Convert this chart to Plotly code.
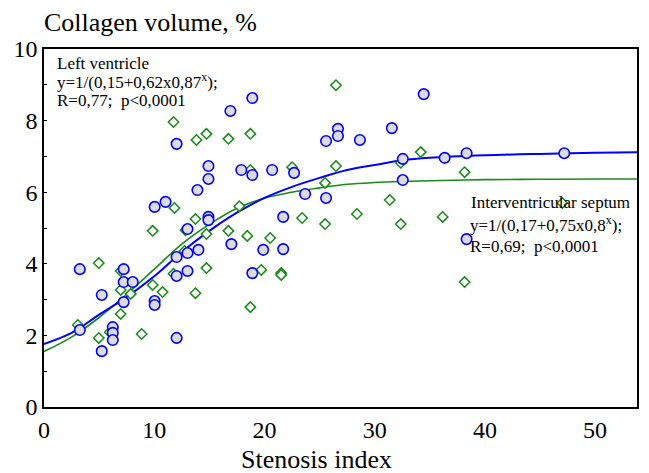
import plotly.graph_objects as go

# Left ventricle - blue circles
lv_x = [3.25, 3.25, 5.24, 5.24, 6.24, 6.24, 6.24, 7.23, 7.23, 8.05, 7.23, 10.04, 10.04, 12.03,
        10.04, 11.03, 12.03, 12.03, 12.03, 13.02, 13.02, 13.02, 13.92, 14.01, 14.92, 14.92,
        14.92, 14.92, 16.91, 17.0, 17.9, 18.9, 18.9, 18.9, 19.89, 20.7, 21.7, 21.7, 22.69,
        23.69, 25.59, 25.59, 26.67, 26.67, 28.66, 31.56, 32.55, 32.55, 34.45, 36.35, 38.34,
        38.34, 47.2]
lv_y = [3.85, 2.15, 3.13, 1.56, 2.23, 2.07, 1.87, 3.85, 3.49, 3.49, 2.93, 2.96, 2.85, 1.93,
        5.59, 5.73, 7.35, 4.19, 3.66, 4.97, 4.30, 3.80, 6.06, 4.39, 6.73, 6.37,
        5.31, 5.22, 8.27, 4.55, 6.62, 8.63, 6.48, 3.74, 4.39, 6.62, 5.31, 4.41, 6.54,
        5.95, 7.43, 5.84, 7.77, 7.57, 7.46, 7.79, 6.93, 6.34, 8.74, 6.96, 7.09,
        4.69, 7.09]

# Interventricular septum - green diamonds
ivs_x = [3.07, 4.97, 4.97, 5.97, 6.96, 6.96, 6.96, 7.87, 8.86, 9.86, 9.86, 10.76, 11.75, 11.84,
         11.75, 12.75, 12.84, 13.74, 13.74, 13.83, 14.74, 14.74, 14.74, 16.73, 16.73, 17.72,
         18.44, 18.72, 18.72, 18.72, 19.71, 20.52, 21.52, 21.52, 22.51, 23.42, 25.5, 25.5,
         26.49, 26.49, 28.39, 31.37, 32.37, 32.37, 34.18, 36.17, 38.16, 38.16, 47.02]
ivs_y = [2.29, 4.02, 1.93, 2.09, 3.80, 3.27, 2.60, 3.16, 2.04, 4.92, 3.41, 3.21, 7.96, 5.56,
         3.72, 4.36, 4.94, 5.25, 3.18, 7.46, 7.63, 4.83, 3.88, 7.49, 4.92, 5.61,
         4.78, 7.63, 6.62, 2.79, 3.83, 4.72, 3.74, 3.69, 6.70, 5.28, 6.26, 5.11,
         8.99, 6.73, 5.39, 5.78, 6.82, 5.11, 7.12, 5.31, 6.56, 3.49, 5.70]

# fitted curves as drawn in the picture
curve_x = [0, 2.5, 5, 7.5, 10, 12.5, 15, 17.5, 20, 22.5, 25, 27.5, 30, 32.5, 35, 40, 45, 50, 54]
lv_fit = [1.76, 2.07, 2.58, 3.07, 3.65, 4.33, 4.92, 5.43, 5.84, 6.15, 6.40, 6.62, 6.76, 6.89,
          6.96, 7.03, 7.07, 7.10, 7.12]
ivs_fit = [1.55, 1.95, 2.50, 3.15, 3.85, 4.55, 5.10, 5.55, 5.83, 6.00, 6.12, 6.22, 6.27, 6.30,
           6.32, 6.35, 6.36, 6.37, 6.37]

FONT = "Liberation Serif, Times New Roman, serif"
GREEN = "#1a8a1a"
BLUE = "#0000ff"

fig = go.Figure()

fig.add_trace(go.Scatter(x=curve_x, y=ivs_fit, mode="lines", line={"color": GREEN, "width": 1.6, "shape": "spline"},
                         name="IVS fit"))
fig.add_trace(go.Scatter(x=curve_x, y=lv_fit, mode="lines", line={"color": BLUE, "width": 2, "shape": "spline"},
                         name="LV fit"))
fig.add_trace(go.Scatter(x=ivs_x, y=ivs_y, mode="markers", name="Interventricular septum",
                         marker={"symbol": "diamond", "size": 8, "color": "white",
                                 "line": {"color": GREEN, "width": 1.5}}))
fig.add_trace(go.Scatter(x=lv_x, y=lv_y, mode="markers", name="Left ventricle",
                         marker={"symbol": "circle", "size": 10.5, "color": "#dcdce0",
                                 "line": {"color": BLUE, "width": 1.6}}))

# pixel helpers for text placement
L, R, T, B = 44, 639, 49, 407


def px(x):
    return (x - L) / (R - L)


def py(y):
    return (B - y) / (B - T)


texts = [
    ("Left ventricle", 55, 63),
    ("y=1/(0,15+0,62x0,87<sup>x</sup>);", 55, 81),
    ("R=0,77;  p<0,0001", 55, 101),
    ("Interventricular septum", 470, 202),
    ("y=1/(0,17+0,75x0,8<sup>x</sup>);", 469, 224),
    ("R=0,69;  p<0,0001", 469, 246),
]
for t, x, y in texts:
    fig.add_annotation(text=t, x=px(x), y=py(y), xref="paper", yref="paper", xanchor="left",
                       yanchor="middle", showarrow=False, font={"family": FONT, "size": 17, "color": "black"})

fig.add_annotation(text="Collagen volume, %", x=px(42), y=py(22), xref="paper", yref="paper",
                   xanchor="left", yanchor="middle", showarrow=False,
                   font={"family": FONT, "size": 26, "color": "black"})
fig.add_annotation(text="Stenosis index", x=px(317), y=py(459), xref="paper", yref="paper",
                   xanchor="center", yanchor="middle", showarrow=False,
                   font={"family": FONT, "size": 26, "color": "black"})

fig.update_layout(
    width=649, height=473,
    margin={"l": L, "r": 649 - R, "t": T, "b": 473 - B},
    plot_bgcolor="white", paper_bgcolor="white",
    showlegend=False,
    font={"family": FONT, "size": 24, "color": "black"},
)
fig.update_xaxes(range=[0, 53.8], tickvals=[0, 10, 20, 30, 40, 50], showgrid=False, zeroline=False,
                 showline=True, linecolor="black", linewidth=1.5, mirror=True, ticks="",
                 tickfont={"size": 24})
fig.update_yaxes(range=[0, 10], tickvals=[0, 2, 4, 6, 8, 10], showgrid=False, zeroline=False,
                 showline=True, linecolor="black", linewidth=1.5, mirror=True, ticks="inside",
                 ticklen=3, tickcolor="black", minor={"dtick": 1, "ticks": "inside", "ticklen": 3,
                                                      "tickcolor": "black"},
                 tickfont={"size": 24})

config = {"displayModeBar": False}
fig.write_html("out.html", config=config, post_script="document.body.style.margin='0';")
